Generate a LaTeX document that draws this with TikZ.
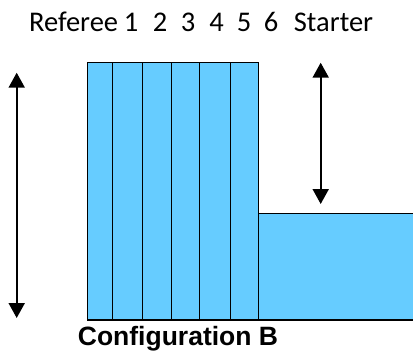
\documentclass[tikz,border=0pt]{standalone}
\usepackage{fontspec}
\usetikzlibrary{arrows.meta}
\newfontfamily\calib{Carlito}
\newfontfamily\arialb{Liberation Sans}
\definecolor{lane}{RGB}{102,204,255}
\tikzset{
  lanebox/.style={fill=lane,draw=black,line width=1.5pt},
  dimarrow/.style={line width=2pt,{Triangle[width=16pt,length=15pt]}-{Triangle[width=16pt,length=15pt]}},
  toplabel/.style={font=\calib\fontsize{28.5}{30}\selectfont,anchor=base,inner sep=0pt},
}
\begin{document}
\begin{tikzpicture}[x=1pt,y=-1pt]
\useasboundingbox (0,0) rectangle (413,351);
\clip (0,0) rectangle (413,351);
% right pool area
\draw[lanebox] (258.7,213.3) rectangle (430,320);
% lanes
\draw[lanebox] (87.3,62.3) rectangle (258.7,320);
\foreach \x in {112.7,142.3,171.7,199.3,230.3}
  \draw[line width=1.5pt] (\x,62.3) -- (\x,320);
% labels
\node[toplabel] (ref) at (73.6,31) {Referee};
\node[toplabel] (l1) at (131,31) {1};
\node[toplabel] (l2) at (160,31) {2};
\node[toplabel] (l3) at (188,31) {3};
\node[toplabel] (l4) at (216.5,31) {4};
\node[toplabel] (l5) at (244,31) {5};
\node[toplabel] (l6) at (271,31) {6};
\node[toplabel] (st) at (333.5,31) {Starter};
\node[font=\arialb\bfseries\fontsize{26.5}{28}\selectfont,anchor=base,inner sep=0pt] (cap) at (178,345) {Configuration B};
% arrows
\coordinate (a1) at (16.7,72.7);
\coordinate (a2) at (16.7,318);
\coordinate (b1) at (320.7,62.7);
\coordinate (b2) at (320.7,204);
\draw[dimarrow] (a1) -- (a2);
\draw[dimarrow] (b1) -- (b2);
\end{tikzpicture}
\end{document}
